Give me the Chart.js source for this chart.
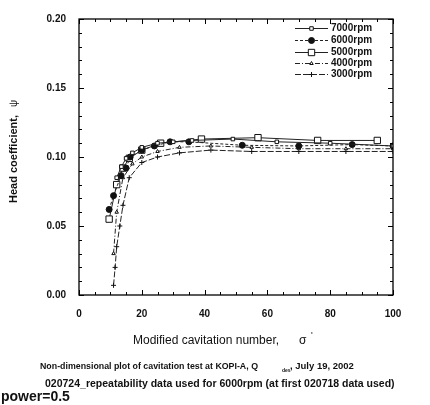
<!DOCTYPE html>
<html>
<head>
<meta charset="utf-8">
<script src="https://cdn.jsdelivr.net/npm/chart.js@4.4.0/dist/chart.umd.min.js"></script>
<style>
  html, body { margin: 0; padding: 0; background: #fff; }
  #chartCanvas { display: block; }
</style>
</head>
<body>
<canvas id="chartCanvas" width="430" height="405"></canvas>
<script>
// ---- data ----
const seriesNames = ['7000rpm', '6000rpm', '5000rpm', '4000rpm', '3000rpm'];

const sigma7000 = [12, 13.5, 15, 17, 20, 25, 30, 36, 49, 63, 80, 100];
const psi7000   = [0.085, 0.093, 0.099, 0.103, 0.107, 0.110, 0.111, 0.112, 0.113, 0.111, 0.110, 0.108];

const sigma6000 = [9.6, 11, 13.4, 15, 16.3, 20, 24, 29, 35, 52, 70, 87, 100];
const psi6000   = [0.062, 0.072, 0.0865, 0.092, 0.100, 0.105, 0.108, 0.111, 0.111, 0.1085, 0.108, 0.109, 0.108];

const sigma5000 = [9.6, 12, 14, 16, 20, 26, 39, 57, 76, 95];
const psi5000   = [0.055, 0.080, 0.092, 0.099, 0.105, 0.110, 0.113, 0.114, 0.112, 0.112];

const sigma4000 = [11, 12, 14, 17, 20, 25, 32, 42, 55, 70, 85, 100];
const psi4000   = [0.030, 0.060, 0.085, 0.095, 0.100, 0.104, 0.107, 0.108, 0.107, 0.106, 0.106, 0.106];

const sigma3000 = [11, 11.5, 12, 13, 14, 16, 20, 25, 32, 42, 55, 70, 85, 100];
const psi3000   = [0.007, 0.020, 0.035, 0.050, 0.065, 0.085, 0.096, 0.100, 0.103, 0.105, 0.104, 0.104, 0.104, 0.104];

const xTicks = [0, 20, 40, 60, 80, 100];
const yTicks = [0.00, 0.05, 0.10, 0.15, 0.20];

const FONT = '"Liberation Sans", Arial, sans-serif';

// pair up x and y arrays into points
function toPoints(xs, ys) {
    return xs.map((x, i) => ({ x: x, y: ys[i] }));
}

// per-series look (line dash, marker)
const styles = [
    { dash: [],           point: 'rect',     radius: 2.5, fill: '#fff' },
    { dash: [3, 2],       point: 'circle',   radius: 3,   fill: '#111' },
    { dash: [],           point: 'rect',     radius: 4.5, fill: '#fff' },
    { dash: [5, 2, 1, 2], point: 'triangle', radius: 2,   fill: '#fff' },
    { dash: [6, 2],       point: 'cross',    radius: 2.5, fill: '#fff' }
];

const allSigma = [sigma7000, sigma6000, sigma5000, sigma4000, sigma3000];
const allPsi = [psi7000, psi6000, psi5000, psi4000, psi3000];

const datasets = seriesNames.map((name, i) => ({
    label: name,
    data: toPoints(allSigma[i], allPsi[i]),
    borderColor: '#222',
    borderWidth: 1,
    borderDash: styles[i].dash,
    pointStyle: styles[i].point,
    pointRadius: styles[i].radius,
    pointBackgroundColor: styles[i].fill,
    pointBorderColor: '#111',
    pointBorderWidth: 1,
    fill: false,
    tension: 0
}));

// frame, inward ticks, titles, legend and footer notes
const decorPlugin = {
    id: 'decor',
    afterDraw: (chart) => {
        const ctx = chart.ctx;
        const area = chart.chartArea;
        const xs = chart.scales.x;
        const ys = chart.scales.y;
        ctx.save();

        // box
        ctx.strokeStyle = '#000';
        ctx.lineWidth = 1.3;
        ctx.strokeRect(area.left, area.top, area.right - area.left, area.bottom - area.top);

        // inward ticks, major and minor
        ctx.lineWidth = 1;
        ctx.beginPath();
        for (let v = 0; v <= 100; v += 5) {
            const px = Math.round(xs.getPixelForValue(v)) + 0.5;
            const len = (v % 20 === 0) ? 5 : 3;
            ctx.moveTo(px, area.bottom); ctx.lineTo(px, area.bottom - len);
            ctx.moveTo(px, area.top); ctx.lineTo(px, area.top + len);
        }
        for (let k = 0; k <= 20; k++) {
            const py = Math.round(ys.getPixelForValue(k / 100)) + 0.5;
            const len = (k % 5 === 0) ? 5 : 3;
            ctx.moveTo(area.left, py); ctx.lineTo(area.left + len, py);
            ctx.moveTo(area.right, py); ctx.lineTo(area.right - len, py);
        }
        ctx.stroke();

        // axis titles
        ctx.fillStyle = '#111';
        ctx.font = '12px ' + FONT;
        ctx.textAlign = 'left';
        ctx.textBaseline = 'alphabetic';
        ctx.fillText('Modified cavitation number,', 133, 344);
        ctx.fillText('\u03c3', 299, 344);
        ctx.font = '9px ' + FONT;
        ctx.fillText('\'', 311, 338);

        ctx.save();
        ctx.translate(17, 203);
        ctx.rotate(-Math.PI / 2);
        ctx.font = 'bold 11px ' + FONT;
        ctx.fillText('Head coefficient,', 0, 0);
        ctx.font = '10px ' + FONT;
        ctx.fillText('\u03c8', 96, 0);
        ctx.restore();

        // legend
        ctx.font = 'bold 10px ' + FONT;
        ctx.textBaseline = 'middle';
        const legendY = [28, 40, 52, 63, 74];
        chart.data.datasets.forEach((ds, i) => {
            const y = legendY[i];
            ctx.strokeStyle = '#222';
            ctx.lineWidth = 1;
            ctx.setLineDash(ds.borderDash);
            ctx.beginPath();
            ctx.moveTo(295, y + 0.5);
            ctx.lineTo(328, y + 0.5);
            ctx.stroke();
            ctx.setLineDash([]);
            ctx.fillStyle = ds.pointBackgroundColor;
            ctx.strokeStyle = '#111';
            Chart.helpers.drawPoint(ctx, {
                pointStyle: ds.pointStyle,
                radius: ds.pointRadius,
                borderWidth: 1
            }, 311.5, y + 0.5);
            ctx.fillStyle = '#111';
            ctx.fillText(ds.label, 331, y);
        });

        // notes under the chart
        ctx.textBaseline = 'alphabetic';
        ctx.fillStyle = '#111';
        ctx.font = 'bold 9.5px ' + FONT;
        ctx.fillText('Non-dimensional plot of cavitation test at KOPI-A, Q', 40, 369, 218);
        ctx.font = 'bold 5px ' + FONT;
        ctx.fillText('des', 282, 372);
        ctx.font = 'bold 9.5px ' + FONT;
        ctx.fillText(', July 19, 2002', 290, 369, 113);
        ctx.font = 'bold 10.5px ' + FONT;
        ctx.fillText('020724_repeatability data used for 6000rpm (at first 020718 data used)', 45, 387, 350);
        ctx.font = 'bold 14px ' + FONT;
        ctx.fillText('power=0.5', 1, 401);

        ctx.restore();
    }
};

const ctx = document.getElementById('chartCanvas').getContext('2d');
const chart = new Chart(ctx, {
    type: 'line',
    data: { datasets: datasets },
    options: {
        responsive: false,
        animation: false,
        layout: { padding: { top: 13, right: 37, left: 0, bottom: 0 } },
        scales: {
            x: {
                type: 'linear',
                min: 0,
                max: 100,
                afterFit: (scale) => { scale.height = 110; },
                afterBuildTicks: (scale) => { scale.ticks = xTicks.map(v => ({ value: v })); },
                grid: { display: false, drawTicks: false },
                border: { display: false },
                ticks: {
                    padding: 13,
                    color: '#111',
                    font: { family: FONT, size: 10, weight: 'bold' },
                    maxRotation: 0
                }
            },
            y: {
                min: 0,
                max: 0.2,
                afterFit: (scale) => { scale.width = 79; },
                afterBuildTicks: (scale) => { scale.ticks = yTicks.map(v => ({ value: v })); },
                grid: { display: false, drawTicks: false },
                border: { display: false },
                ticks: {
                    padding: 13,
                    color: '#111',
                    font: { family: FONT, size: 10, weight: 'bold' },
                    callback: (value) => value.toFixed(2)
                }
            }
        },
        plugins: {
            legend: { display: false },
            tooltip: { enabled: false }
        }
    },
    plugins: [decorPlugin]
});
</script>
</body>
</html>
